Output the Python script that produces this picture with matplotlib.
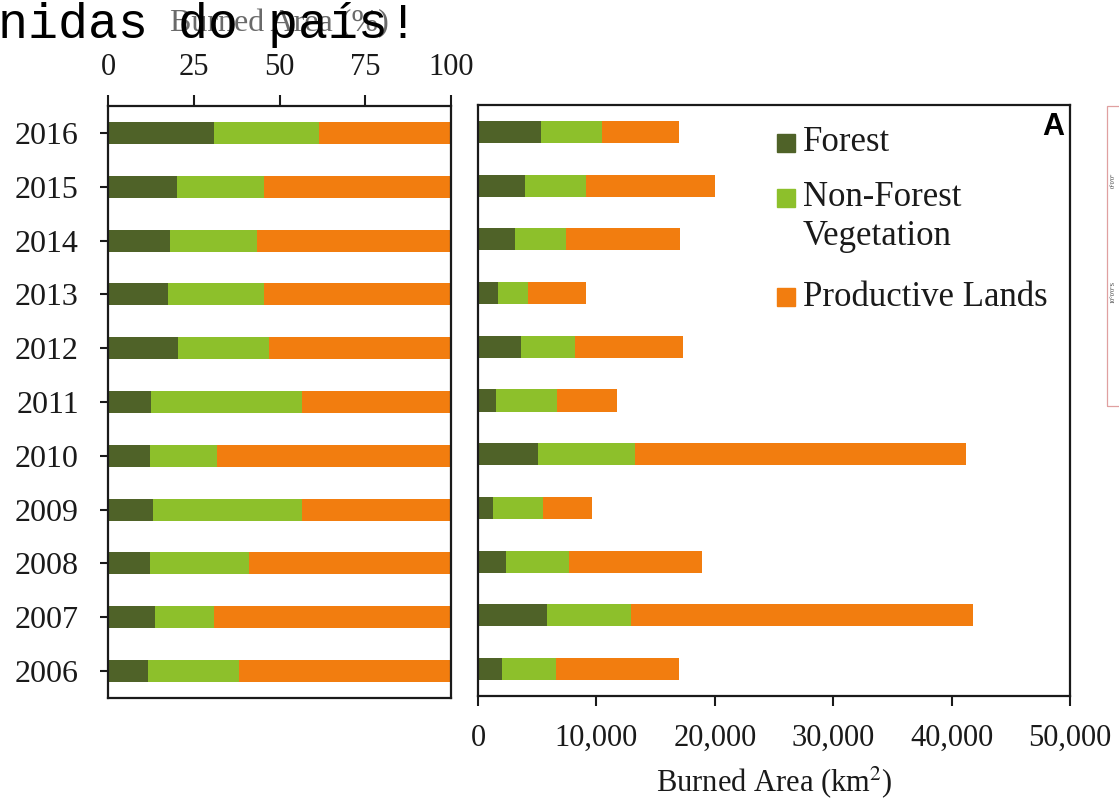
import numpy as np
import matplotlib.pyplot as plt
from matplotlib.patches import Rectangle

plt.rcParams['font.family'] = ['Liberation Serif', 'DejaVu Serif']
plt.rcParams['mathtext.fontset'] = 'stix'

years = ['2006', '2007', '2008', '2009', '2010', '2011', '2012', '2013', '2014', '2015', '2016']

# share of burned area (%)
pct_forest = [11.7, 13.7, 12.2, 13.0, 12.2, 12.6, 20.4, 17.6, 18.0, 20.1, 31.0]
pct_nonforest = [26.4, 17.3, 28.8, 43.5, 19.6, 43.9, 26.4, 28.0, 25.4, 25.5, 30.5]
pct_productive = [61.9, 69.0, 59.0, 43.5, 68.2, 43.5, 53.2, 54.4, 56.6, 54.4, 38.5]

# burned area (km2)
km_forest = [2050, 5800, 2400, 1300, 5050, 1550, 3600, 1650, 3100, 3950, 5300]
km_nonforest = [4500, 7100, 5300, 4200, 8250, 5100, 4600, 2550, 4350, 5200, 5200]
km_productive = [10450, 28900, 11250, 4100, 27900, 5050, 9150, 4950, 9650, 10880, 6500]

labels = ['Forest', 'Non-Forest', 'Vegetation', 'Productive Lands']
colors = ['#4f6228', '#8dc02b', '#f27d0f']

W, H = 1119, 798
fig = plt.figure(figsize=(W / 100, H / 100), dpi=100)

axL = fig.add_axes([108 / W, 1 - 698 / H, (451 - 108) / W, (698 - 106) / H])
axR = fig.add_axes([478 / W, 1 - 696 / H, (1070 - 478) / W, (696 - 105) / H])

y = np.arange(len(years))
bh = 0.41

def stack(ax, a, b, c):
    a, b, c = np.array(a), np.array(b), np.array(c)
    ax.barh(y, a, height=bh, color=colors[0])
    ax.barh(y, b, left=a, height=bh, color=colors[1])
    ax.barh(y, c, left=a + b, height=bh, color=colors[2])
    ax.set_ylim(-0.5, len(years) - 0.5)
    for s in ax.spines.values():
        s.set_linewidth(1.6)
        s.set_color('#1a1a1a')

stack(axL, pct_forest, pct_nonforest, pct_productive)
stack(axR, km_forest, km_nonforest, km_productive)

# left panel: percent, axis on top
axL.set_xlim(0, 100)
axL.xaxis.tick_top()
axL.xaxis.set_label_position('top')
axL.set_xticks([0, 25, 50, 75, 100])
axL.set_yticks(y)
axL.set_yticklabels(years)
axL.tick_params(axis='x', direction='out', length=8, width=1.5, pad=9, labelsize=22, colors='#1a1a1a')
axL.tick_params(axis='y', direction='out', length=6, width=1.5, pad=15, labelsize=23, colors='#1a1a1a')
axL.set_xlabel('Burned Area (%)', fontsize=23, color='#6a6a6a', labelpad=16)

# right panel: km2
axR.set_xlim(0, 50000)
axR.set_xticks([0, 10000, 20000, 30000, 40000, 50000])
axR.set_xticklabels(['0', '10,000', '20,000', '30,000', '40,000', '50,000'])
axR.set_yticks([])
axR.tick_params(axis='x', direction='out', length=7, width=1.5, pad=13, labelsize=22, colors='#1a1a1a')
axR.set_xlabel('Burned Area (km$^{2}$)', fontsize=22, color='#1a1a1a', labelpad=8)

# legend drawn by hand so the square sits on the first line of the wrapped label
sq = 0.03
rows = [(0.936, 0, labels[0]), (0.843, 1, labels[1]), (0.777, None, labels[2]), (0.675, 2, labels[3])]
for yy, ci, txt in rows:
    if ci is not None:
        axR.add_patch(Rectangle((0.520 - sq / 2, yy - sq / 2), sq, sq, transform=axR.transAxes,
                                color=colors[ci], clip_on=False))
    axR.text(0.549, yy, txt, transform=axR.transAxes, fontsize=25, va='center', ha='left', color='#1a1a1a')

axR.text(0.99, 0.962, 'A', transform=axR.transAxes, fontsize=22, fontweight='bold',
         family='Liberation Sans', ha='right', va='center', color='black')

# overlapping page text and cut-off neighbouring panel from the screenshot
fig.text(-0.002, 1 - 38 / H, 'nidas do país!', fontsize=36, family='Liberation Mono',
         ha='left', va='baseline', color='black')
fig.add_artist(Rectangle((1107 / W, 1 - 406 / H), 0.03, (406 - 106) / H, transform=fig.transFigure,
                         fill=False, edgecolor='#e0a0a0', linewidth=0.9))
fig.text(1113 / W, 1 - 180 / H, '0°0\'0"', fontsize=4.5, rotation=90, ha='center', va='center', color='#333333')
fig.text(1113 / W, 1 - 292 / H, '10°0\'0"S', fontsize=4.5, rotation=90, ha='center', va='center', color='#333333')

fig.savefig('out.png', dpi=100)
